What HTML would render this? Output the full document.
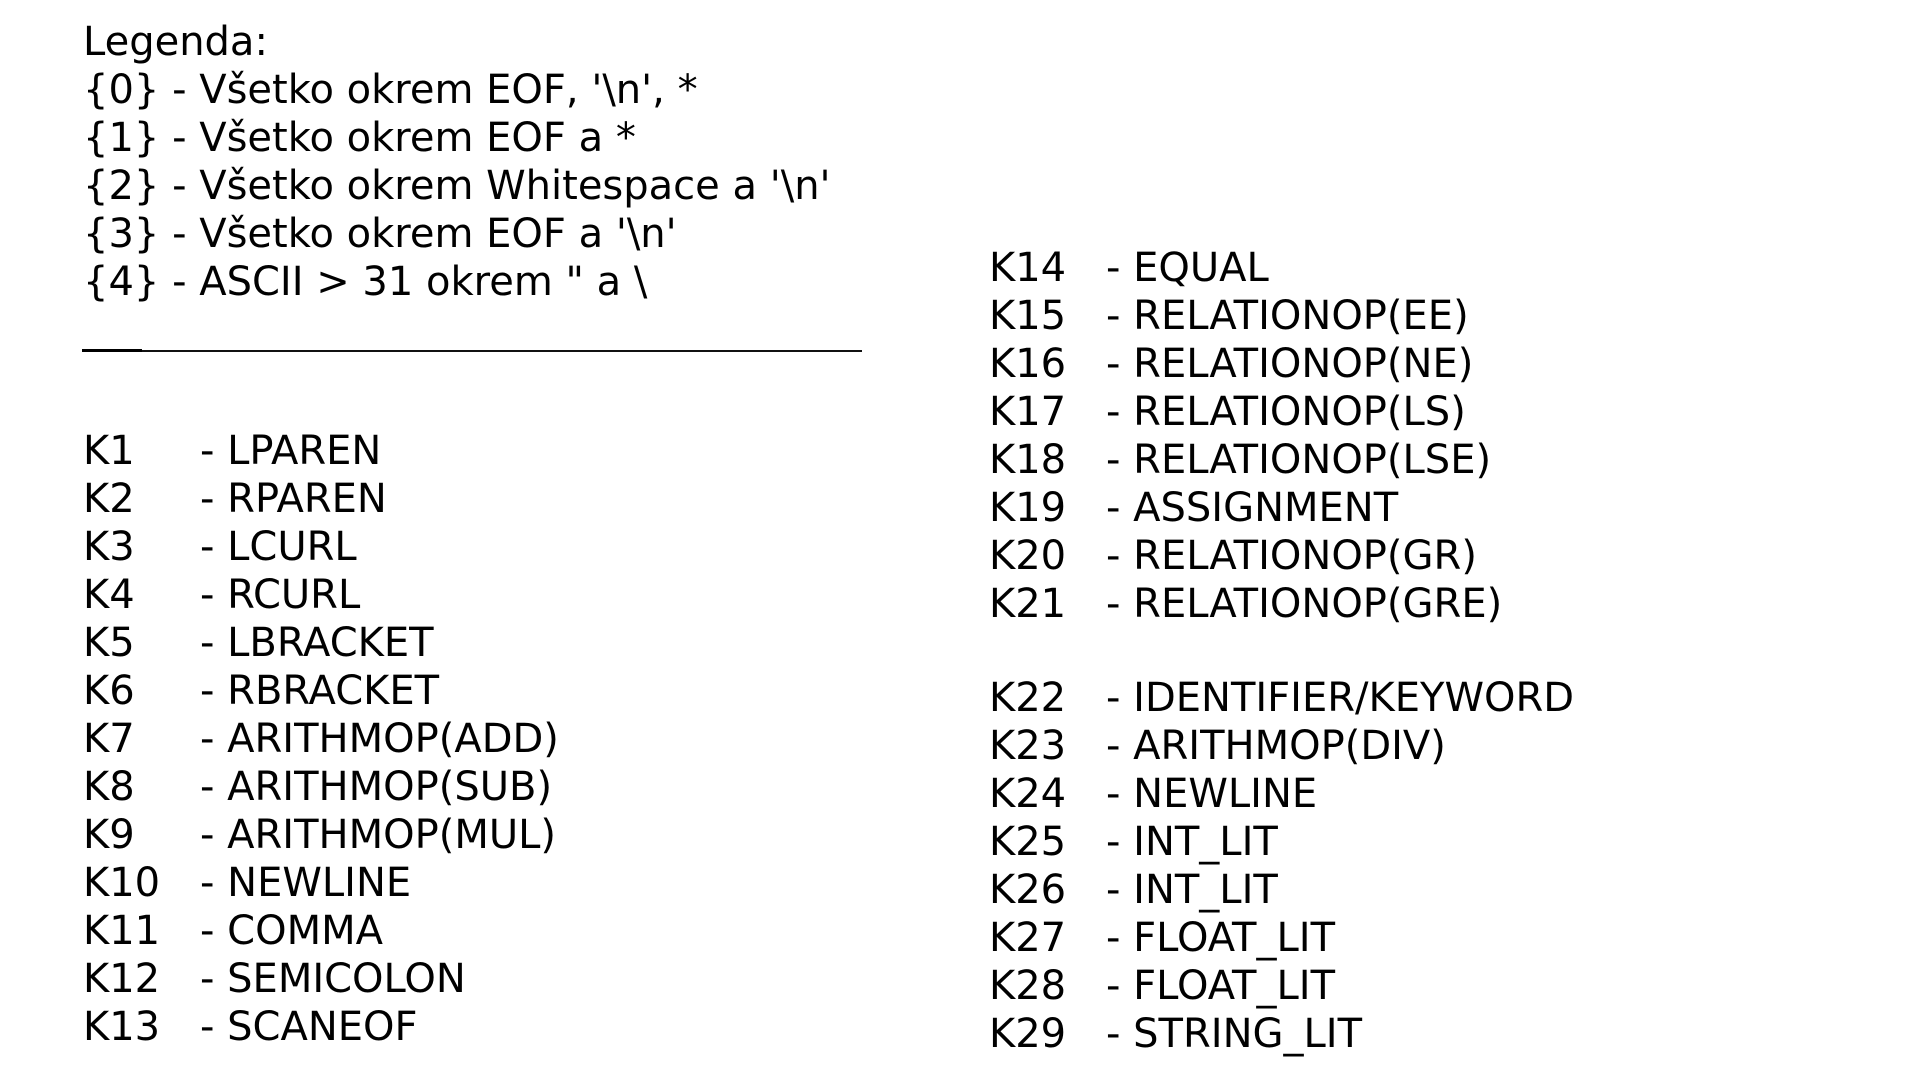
<!DOCTYPE html>
<html><head><meta charset="utf-8"><style>
body{margin:0;width:1920px;height:1080px;background:#fff;position:relative;overflow:hidden;font-family:"DejaVu Sans","Liberation Sans",sans-serif;font-size:40px;color:#000}
.b{position:absolute;line-height:48px;white-space:pre}
.r{position:absolute;line-height:48px;white-space:pre}
.k{display:inline-block}
</style></head><body>
<div class="b" style="left:83px;top:18px">Legenda:
{0} - Všetko okrem EOF, '\n', *
{1} - Všetko okrem EOF a *
{2} - Všetko okrem Whitespace a '\n'
{3} - Všetko okrem EOF a '\n'
{4} - ASCII &gt; 31 okrem " a \</div>
<div style="position:absolute;left:82px;top:349px;width:60px;height:3px;background:#000"></div>
<div style="position:absolute;left:142px;top:350px;width:720px;height:2px;background:#111"></div>
<div class="b" style="left:83px;top:427px"><span class="k" style="width:117px">K1</span>- LPAREN
<span class="k" style="width:117px">K2</span>- RPAREN
<span class="k" style="width:117px">K3</span>- LCURL
<span class="k" style="width:117px">K4</span>- RCURL
<span class="k" style="width:117px">K5</span>- LBRACKET
<span class="k" style="width:117px">K6</span>- RBRACKET
<span class="k" style="width:117px">K7</span>- ARITHMOP(ADD)
<span class="k" style="width:117px">K8</span>- ARITHMOP(SUB)
<span class="k" style="width:117px">K9</span>- ARITHMOP(MUL)
<span class="k" style="width:117px">K10</span>- NEWLINE
<span class="k" style="width:117px">K11</span>- COMMA
<span class="k" style="width:117px">K12</span>- SEMICOLON
<span class="k" style="width:117px">K13</span>- SCANEOF</div>
<div class="r" style="left:989px;top:244px"><span class="k" style="width:117px">K14</span>- EQUAL
<span class="k" style="width:117px">K15</span>- RELATIONOP(EE)
<span class="k" style="width:117px">K16</span>- RELATIONOP(NE)
<span class="k" style="width:117px">K17</span>- RELATIONOP(LS)
<span class="k" style="width:117px">K18</span>- RELATIONOP(LSE)
<span class="k" style="width:117px">K19</span>- ASSIGNMENT
<span class="k" style="width:117px">K20</span>- RELATIONOP(GR)
<span class="k" style="width:117px">K21</span>- RELATIONOP(GRE)</div>
<div class="r" style="left:989px;top:674px"><span class="k" style="width:117px">K22</span>- IDENTIFIER/KEYWORD
<span class="k" style="width:117px">K23</span>- ARITHMOP(DIV)
<span class="k" style="width:117px">K24</span>- NEWLINE
<span class="k" style="width:117px">K25</span>- INT_LIT
<span class="k" style="width:117px">K26</span>- INT_LIT
<span class="k" style="width:117px">K27</span>- FLOAT_LIT
<span class="k" style="width:117px">K28</span>- FLOAT_LIT
<span class="k" style="width:117px">K29</span>- STRING_LIT</div>
</body></html>
